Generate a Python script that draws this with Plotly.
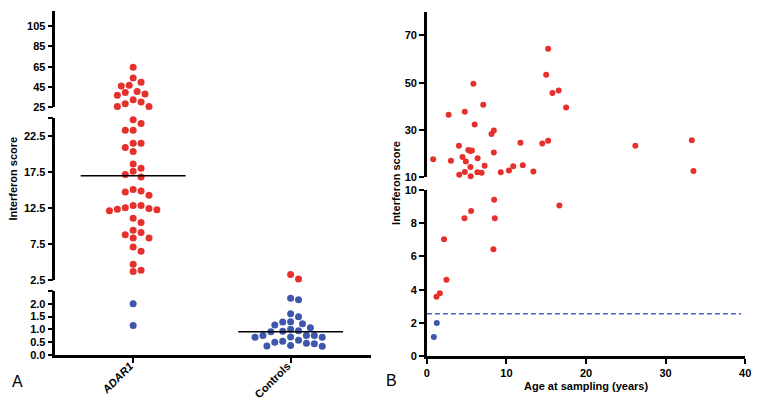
import numpy as np
import plotly.graph_objects as go

# ---------------- data ----------------
adar1_scores = [64.5, 53.7, 46.6, 46.0, 49.5, 39.6, 36.8, 38.0, 40.6, 30.1, 32.3, 25.6, 25.6, 28.4,
                24.8, 24.3, 23.35, 23.35, 21.55, 21.55, 20.96, 20.4, 18.66, 18.04, 17.63, 17.18,
                16.82, 14.88, 14.3, 14.74, 15.1, 12.85, 12.54, 12.36, 12.14, 12.27, 12.45, 12.85,
                11.1, 10.51, 9.43, 9.12, 8.8, 8.35, 8.35, 7.09, 6.5, 4.7, 3.66, 3.84, 2.0, 1.15]
control_scores = [3.26, 2.63, 2.16, 2.22, 1.61, 1.49, 1.29, 1.30, 1.22, 1.17, 1.07, 1.01, 0.925,
                  0.91, 0.95, 0.76, 0.76, 0.69, 0.69, 0.70, 0.76, 0.54, 0.46, 0.37, 0.34, 0.35,
                  0.44, 0.50, 0.58]
groups = ["<b><i>ADAR1</i></b>", "<b>Controls</b>"]

age_years = [0.79, 2.73, 3.02, 4.02, 4.06, 4.47, 4.76, 4.76, 4.89, 5.2, 5.45, 5.65, 5.47, 5.5,
             5.84, 6.0, 6.37, 6.34, 6.87, 7.08, 7.25, 8.12, 8.41, 8.41, 9.28, 10.31, 10.85,
             11.76, 12.05, 13.38, 14.5, 14.99, 15.24, 15.24, 15.78, 16.56, 17.5, 26.2, 33.3,
             33.5, 8.45, 16.65, 4.72, 5.55, 8.53, 8.36, 2.15, 2.45, 1.62, 1.2, 1.24, 0.87]
age_scores = [17.65, 36.5, 17.1, 23.4, 11.1, 18.6, 12.3, 37.8, 16.7, 21.6, 21.2, 21.4, 14.4, 10.5,
              49.6, 32.4, 18.1, 12.2, 12.0, 40.7, 14.9, 28.4, 29.8, 20.5, 12.2, 12.9, 14.7,
              24.7, 15.2, 12.5, 24.3, 53.4, 64.4, 25.5, 45.7, 46.7, 39.6, 23.4, 25.7,
              12.7, 9.4, 9.05, 8.29, 8.72, 8.29, 6.42, 7.03, 4.6, 3.79, 3.57, 2.0, 1.16]
threshold = 2.56

left_y_ticks_bottom = [0.0, 0.5, 1.0, 1.5, 2.0, 2.5]
left_y_ticks_middle = [2.5, 7.5, 12.5, 17.5, 22.5, 25]
left_y_ticks_top = [25, 45, 65, 85, 105]
right_x_ticks = [0, 10, 20, 30, 40]
right_y_ticks_bottom = [0, 2, 4, 6, 8, 10]
right_y_ticks_top = [10, 30, 50, 70]

# ---------------- layout constants ----------------
W, H = 762, 405
RED = "#e5302b"
BLUE = "#3f56ad"
FONT = "Liberation Sans, Arial, sans-serif"

LX_DOM = [53 / W, 372 / W]
LX_RANGE = [-0.494, 1.508]
L_SEGS = [  # (range, domain)
    ([0, 2.5], [1 - 359.7 / H, 1 - 293.7 / H]),
    ([2.5, 25], [1 - 282.3 / H, 1 - 115.8 / H]),
    ([25, 120], [1 - 104.3 / H, 1 - 5 / H]),
]
RX_DOM = [429 / W, 751 / W]
RX_RANGE = [0, 40]
R_SEGS = [
    ([0, 10], [1 - 361 / H, 1 - 189.3 / H]),
    ([10, 80], [1 - 176.7 / H, 1 - 6 / H]),
]


def left_seg(v):
    if v < 2.5:
        return 0
    if v < 25:
        return 1
    return 2


def right_seg(v):
    return 0 if v < 10 else 1


def to_px(v, segs, idx):
    r, d = segs[idx]
    frac = (v - r[0]) / (r[1] - r[0])
    return H * (1 - (d[0] + frac * (d[1] - d[0])))


def swarm_offsets(values, step_px=4.0, diam=7.6):
    vals = np.asarray(values, dtype=float)
    py = np.array([to_px(v, L_SEGS, left_seg(v)) for v in vals])
    order = np.argsort(-vals)
    placed = []
    offs = np.zeros(len(vals))
    cands = [0]
    for j in range(1, 40):
        cands += [j, -j]
    for i in order:
        for c in cands:
            x = c * step_px
            if all((x - px) ** 2 + (py[i] - pyy) ** 2 >= diam ** 2 for px, pyy in placed):
                offs[i] = x
                placed.append((x, py[i]))
                break
    px_per_unit = (LX_DOM[1] - LX_DOM[0]) * W / (LX_RANGE[1] - LX_RANGE[0])
    return offs / px_per_unit


fig = go.Figure()

yaxis_names_left = ["y", "y2", "y3"]
yaxis_names_right = ["y4", "y5"]

# ---------------- left panel ----------------
for gi, scores in enumerate([adar1_scores, control_scores]):
    scores = np.asarray(scores, dtype=float)
    offs = swarm_offsets(scores)
    xs = gi + offs
    for si in range(3):
        for is_pos, col in [(True, RED), (False, BLUE)]:
            mask = np.array([left_seg(v) == si and ((v > threshold) == is_pos) for v in scores])
            if mask.any():
                fig.add_trace(go.Scatter(
                    x=xs[mask], y=scores[mask], mode="markers",
                    marker=dict(size=7, color=col, line=dict(width=0)),
                    xaxis="x", yaxis=yaxis_names_left[si], cliponaxis=False,
                    showlegend=False, hoverinfo="skip"))
    med = float(np.median(scores))
    fig.add_trace(go.Scatter(
        x=[gi - 0.333, gi + 0.333], y=[med, med], mode="lines",
        line=dict(color="black", width=1.5),
        xaxis="x", yaxis=yaxis_names_left[left_seg(med)], cliponaxis=False,
        showlegend=False, hoverinfo="skip"))

# ---------------- right panel ----------------
ages = np.asarray(age_years, dtype=float)
ascs = np.asarray(age_scores, dtype=float)
for si in range(2):
    for is_pos, col in [(True, RED), (False, BLUE)]:
        mask = np.array([right_seg(v) == si and ((v > threshold) == is_pos) for v in ascs])
        if mask.any():
            fig.add_trace(go.Scatter(
                x=ages[mask], y=ascs[mask], mode="markers",
                marker=dict(size=6, color=col, line=dict(width=0)),
                xaxis="x2", yaxis=yaxis_names_right[si], cliponaxis=False,
                showlegend=False, hoverinfo="skip"))

fig.add_trace(go.Scatter(
    x=[0, 39.5], y=[threshold, threshold], mode="lines",
    line=dict(color="#4a63c4", width=1.5, dash="5px,3px"),
    xaxis="x2", yaxis="y4", showlegend=False, hoverinfo="skip"))

# ---------------- axes ----------------
tickfont = dict(family=FONT, size=11, color="black")
axis_common = dict(showline=True, linewidth=2.5, linecolor="black", ticks="outside",
                   ticklen=5, tickwidth=2, tickcolor="black", showgrid=False,
                   zeroline=False, tickfont=tickfont, fixedrange=True)


def b(s):
    return f"<b>{s}</b>" if s != "" else ""


layout = dict(
    width=W, height=H, margin=dict(l=0, r=0, t=0, b=0),
    paper_bgcolor="white", plot_bgcolor="rgba(0,0,0,0)",
    xaxis=dict(domain=LX_DOM, range=LX_RANGE, anchor="y", tickvals=[0, 1],
               showticklabels=False, **axis_common),
    yaxis=dict(domain=L_SEGS[0][1], range=L_SEGS[0][0], anchor="x",
               tickvals=left_y_ticks_bottom,
               ticktext=[b(f"{v:.1f}") for v in left_y_ticks_bottom[:-1]] + [""], **axis_common),
    yaxis2=dict(domain=L_SEGS[1][1], range=L_SEGS[1][0], anchor="x",
                tickvals=left_y_ticks_middle,
                ticktext=[b(f"{v:.1f}") for v in left_y_ticks_middle[:-1]] + [""], **axis_common),
    yaxis3=dict(domain=L_SEGS[2][1], range=L_SEGS[2][0], anchor="x",
                tickvals=left_y_ticks_top,
                ticktext=[b(v) for v in left_y_ticks_top], **axis_common),
    xaxis2=dict(domain=RX_DOM, range=RX_RANGE, anchor="y4", tickvals=right_x_ticks,
                ticktext=[b(v) for v in right_x_ticks], **axis_common),
    yaxis4=dict(domain=R_SEGS[0][1], range=R_SEGS[0][0], anchor="x2",
                tickvals=right_y_ticks_bottom,
                ticktext=[b(v) for v in right_y_ticks_bottom], **axis_common),
    yaxis5=dict(domain=R_SEGS[1][1], range=R_SEGS[1][0], anchor="x2",
                tickvals=right_y_ticks_top,
                ticktext=[b(v) for v in right_y_ticks_top], **axis_common),
)
fig.update_layout(**layout)

title_font = dict(family=FONT, size=11, color="black")
common_ann = dict(xref="paper", yref="paper", showarrow=False, xanchor="center", yanchor="middle")
fig.add_annotation(text="<b>Interferon score</b>", x=10 / W, y=1 - 178 / H,
                   textangle=-90, font=title_font, **common_ann)
fig.add_annotation(text="<b>Interferon score</b>", x=397 / W, y=1 - 182 / H,
                   textangle=-90, font=title_font, **common_ann)
fig.add_annotation(text="<b>Age at sampling (years)</b>", x=590 / W, y=1 - 392 / H,
                   font=title_font, **common_ann)
fig.add_annotation(text="A", x=15 / W, y=1 - 387 / H,
                   font=dict(family=FONT, size=16, color="black"), **common_ann)
fig.add_annotation(text="B", x=393 / W, y=1 - 386 / H,
                   font=dict(family=FONT, size=16, color="black"), **common_ann)

# category labels (rotated), anchored at the ticks
for gi, g in enumerate(groups):
    fig.add_annotation(text=g, x=gi, xref="x", y=1 - 362 / H, yref="paper",
                       xanchor="right", yanchor="top", xshift=5, textangle=-45,
                       showarrow=False, font=dict(family=FONT, size=11, color="black"))

fig.write_html("out.html", config={"displayModeBar": False},
               post_script="document.body.style.margin='0';document.body.style.overflow='hidden';")
